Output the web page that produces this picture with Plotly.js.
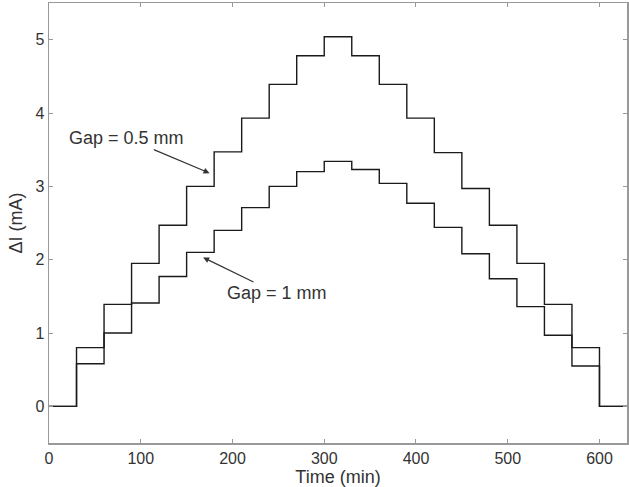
<!DOCTYPE html>
<html>
<head>
<meta charset="utf-8">
<script src="https://cdn.plot.ly/plotly-3.0.1.min.js"></script>
<style>html,body{margin:0;padding:0;background:#fff;}#chart{width:629px;height:487px;}</style>
</head>
<body>
<div id="chart"></div>
<script>
// Step start times (min)
var time = [0, 30, 60, 90, 120, 150, 180, 210, 240, 270, 300, 330, 360, 390, 420, 450, 480, 510, 540, 570, 600, 630];
// Gap = 0.5 mm step levels (mA)
var gap05 = [0, 0.80, 1.39, 1.95, 2.47, 3.00, 3.47, 3.93, 4.39, 4.78, 5.04, 4.78, 4.39, 3.93, 3.46, 2.97, 2.47, 1.95, 1.39, 0.80, 0, 0];
// Gap = 1 mm step levels (mA)
var gap1 = [0, 0.58, 1.00, 1.41, 1.77, 2.10, 2.40, 2.71, 3.00, 3.20, 3.34, 3.23, 3.04, 2.77, 2.44, 2.08, 1.74, 1.36, 0.97, 0.55, 0, 0];
var xTicks = [0, 100, 200, 300, 400, 500, 600];
var yTicks = [0, 1, 2, 3, 4, 5];

var lineStyle = {color: '#1a1a1a', width: 1.4, shape: 'hv'};
var traces = [
  {x: time, y: gap05, mode: 'lines', line: lineStyle, name: 'Gap = 0.5 mm', hoverinfo: 'skip'},
  {x: time, y: gap1, mode: 'lines', line: lineStyle, name: 'Gap = 1 mm', hoverinfo: 'skip'}
];
var tf = {family: 'Liberation Sans, Arial, sans-serif', size: 16, color: '#333'};
var lf = {family: 'Liberation Sans, Arial, sans-serif', size: 18, color: '#333'};
var axisCommon = {
  showline: true, linecolor: '#999', linewidth: 1.5, mirror: 'ticks',
  ticks: 'inside', ticklen: 4, tickcolor: '#999', tickwidth: 1,
  showgrid: false, zeroline: false, tickfont: tf
};
var layout = {
  width: 629, height: 487,
  margin: {l: 49, r: 2, t: 3, b: 44},
  paper_bgcolor: '#fff', plot_bgcolor: '#fff',
  showlegend: false,
  xaxis: Object.assign({}, axisCommon, {
    range: [0, 630], tickvals: xTicks, ticktext: xTicks.map(String),
    title: {text: 'Time (min)', font: lf, standoff: 0}
  }),
  yaxis: Object.assign({}, axisCommon, {
    range: [-0.5, 5.5], tickvals: yTicks, ticktext: yTicks.map(String),
    title: {text: 'ΔI (mA)', font: lf, standoff: 8}
  }),
  annotations: [
    {x: 175, y: 3.18, xref: 'x', yref: 'y', ax: -83, ay: -35, text: 'Gap = 0.5 mm',
     showarrow: true, arrowhead: 2, arrowsize: 1, arrowwidth: 1.2, arrowcolor: '#333',
     font: lf},
    {x: 168, y: 2.03, xref: 'x', yref: 'y', ax: 74, ay: 36, text: 'Gap = 1 mm',
     showarrow: true, arrowhead: 2, arrowsize: 1, arrowwidth: 1.2, arrowcolor: '#333',
     font: lf}
  ]
};
Plotly.newPlot('chart', traces, layout, {staticPlot: true, displayModeBar: false});
</script>
</body>
</html>
